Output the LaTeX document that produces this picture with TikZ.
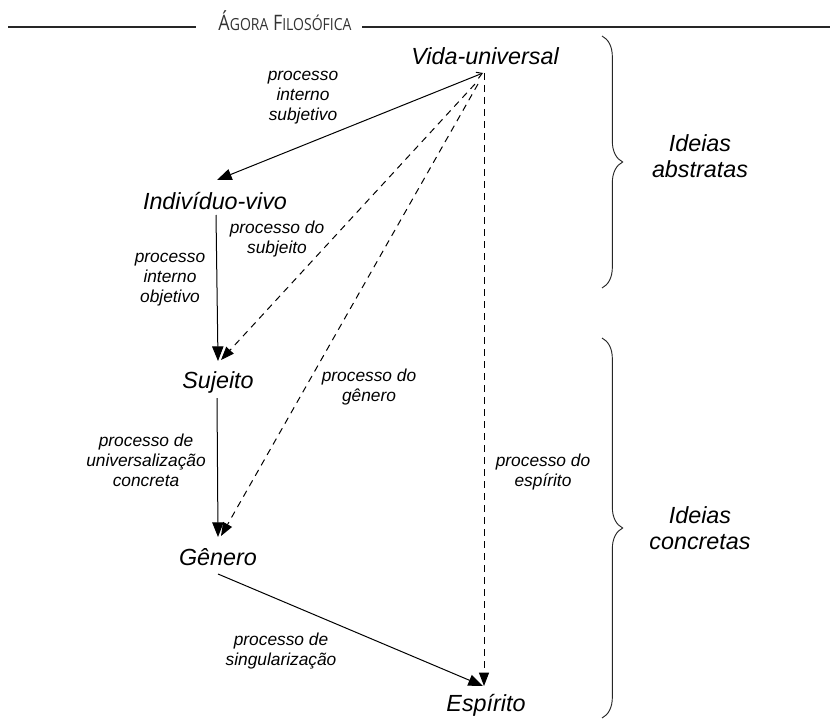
\documentclass[tikz,border=0pt]{standalone}
\usepackage{fontspec}
\setmainfont{Liberation Sans}
\newfontfamily\hdrfont{Open Sans}
\usetikzlibrary{arrows.meta,calc,decorations.pathreplacing}
\begin{document}
\begin{tikzpicture}[x=0.75pt,y=-0.75pt,
  concept/.style={inner sep=0pt,font=\fontsize{17.5}{21}\selectfont\itshape},
  lbl/.style={inner sep=0pt,align=center,font=\fontsize{13}{15}\selectfont\itshape},
  side/.style={inner sep=0pt,align=center,font=\fontsize{17.5}{19}\selectfont\itshape},
  solidarrow/.style={line width=0.75pt,-{Triangle[length=11pt,width=8.5pt]}},
  dasharrow/.style={line width=0.75pt,dash pattern=on 5pt off 4pt,-{Triangle[length=10pt,width=7.5pt]}},
  bracedec/.style={line width=0.7pt,color=black!85,decorate,decoration={brace,amplitude=15.5pt}},
  hline/.style={line width=1.1pt,color=black!85}]
\useasboundingbox (0,0) rectangle (830,720);
% header
\coordinate (hl1) at (8,27);
\coordinate (hl2) at (196,27);
\coordinate (hr1) at (362,27);
\coordinate (hr2) at (830,27);
\draw[hline] (hl1) -- (hl2);
\draw[hline] (hr1) -- (hr2);
\node[inner sep=0pt,text=black!80,xscale=0.84,transform shape] (hdr) at (285,21) {\hdrfont\fontsize{16}{18}\selectfont Á{\fontsize{12.5}{14}\selectfont GORA} F{\fontsize{12.5}{14}\selectfont ILOSÓFICA}};
% concepts
\node[concept] (vida) at (485,56) {Vida-universal};
\node[concept] (indiv) at (215,201) {Indivíduo-vivo};
\node[concept] (suj) at (218,382) {Sujeito};
\node[concept] (gen) at (218,557) {Gênero};
\node[concept] (esp) at (486,705) {Espírito};
% labels
\node[lbl] (l1) at (303,98) {processo\\interno\\subjetivo};
\node[lbl] (l2) at (277,239) {processo do\\subjeito};
\node[lbl] (l3) at (170,280) {processo\\interno\\objetivo};
\node[lbl] (l4) at (369,387) {processo do\\gênero};
\node[lbl] (l5) at (146,460) {processo de\\universalização\\concreta};
\node[lbl] (l6) at (543,472) {processo do\\espírito};
\node[lbl] (l7) at (281,651) {processo de\\singularização};
\node[side] (ia) at (700,156) {Ideias\\abstratas};
\node[side] (ic) at (700,528) {Ideias\\concretas};
% braces
\coordinate (b1t) at (602,36);
\coordinate (b1b) at (602,288);
\coordinate (b2t) at (602,338);
\coordinate (b2b) at (602,718);
\draw[bracedec] (b1t) -- (b1b);
\draw[bracedec] (b2t) -- (b2b);
% connectors
\draw[line width=0.75pt,{Straight Barb[length=4pt,width=5pt]}-{Triangle[length=11pt,width=8.5pt]}]
  ($(vida.center)+(-2,17)$) -- ($(indiv.center)+(2,-21)$);
\draw[solidarrow] ($(indiv.center)+(1,14)$) -- ($(suj.center)+(0,-21)$);
\draw[solidarrow] ($(suj.center)+(-1,16)$) -- ($(gen.center)+(0,-20)$);
\draw[line width=0.75pt,-{Triangle[length=11pt,width=8.5pt]}] ($(gen.center)+(0,17)$) -- ($(esp.center)+(-3,-19)$);
\draw[dasharrow] ($(vida.center)+(-10,28)$) -- ($(suj.center)+(3,-22)$);
\draw[dasharrow] ($(vida.center)+(-7,28)$) -- ($(gen.center)+(3,-21)$);
\draw[dasharrow] ($(vida.center)+(-1,17)$) -- ($(esp.center)+(-2,-19)$);
\end{tikzpicture}
\end{document}
